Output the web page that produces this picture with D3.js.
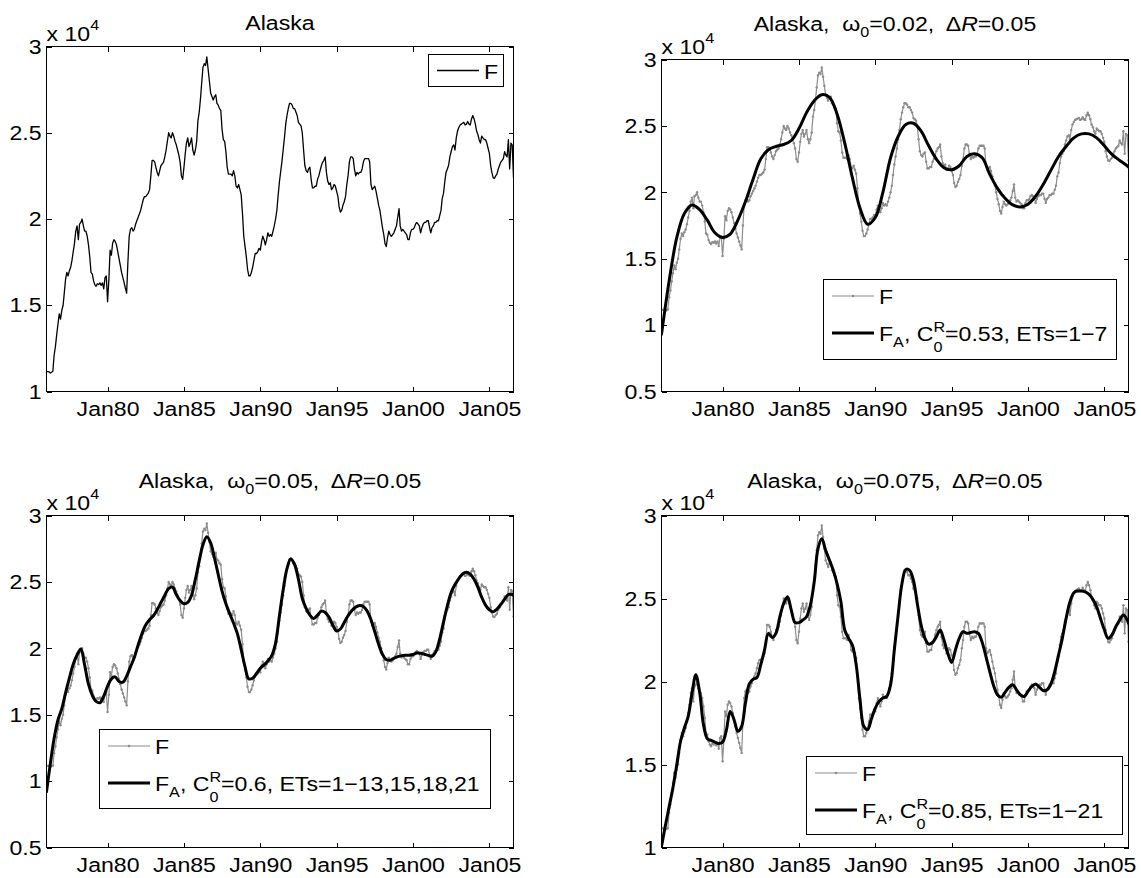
<!DOCTYPE html>
<html>
<head>
<meta charset="utf-8">
<title>Alaska</title>
<script src="https://cdn.jsdelivr.net/npm/d3@7/dist/d3.min.js"></script>
<style>
  html, body { margin: 0; padding: 0; background: #fff; }
  svg { display: block; font-family: "Liberation Sans", Arial, Helvetica, sans-serif; }
  text { white-space: pre; fill: #000; }
</style>
</head>
<body>
<svg id="fig" width="1141" height="878"></svg>
<script>
// ---------------------------------------------------------------
// F : monthly series, Jan 1976 .. Aug 2006 (one row per year)
// ---------------------------------------------------------------
const f1976 = [11160, 11150, 11140, 11070, 11120, 11170, 12100, 12600, 13300, 13900, 14500, 14200];
const f1977 = [14700, 15000, 15700, 16500, 16900, 16700, 17000, 17200, 17600, 18100, 18600, 19300];
const f1978 = [19600, 18800, 19700, 19800, 20000, 19600, 19300, 19300, 19000, 18500, 17800, 16900];
const f1979 = [16800, 16400, 16200, 16100, 16250, 16200, 16300, 16150, 16300, 15950, 16600, 16700];
const f1980 = [15200, 16500, 18200, 17900, 18600, 18800, 18700, 18500, 18100, 17700, 17300, 16900];
const f1981 = [16600, 16300, 16000, 15700, 17500, 19000, 19400, 19500, 19300, 19400, 19700, 19900];
const f1982 = [20100, 20300, 20500, 20800, 21100, 21300, 21300, 21400, 21500, 21700, 22500, 23400];
const f1983 = [23400, 23300, 23000, 22700, 22500, 22800, 23100, 23200, 23300, 23600, 24000, 24500];
const f1984 = [25000, 24800, 24700, 25000, 24800, 24500, 24300, 24000, 23700, 23300, 22500, 22300];
const f1985 = [23000, 23800, 24400, 24700, 24200, 24400, 24700, 24000, 23700, 24000, 24500, 25700];
const f1986 = [26200, 27000, 27900, 28800, 29000, 28900, 29400, 28700, 28000, 27300, 27100, 26900];
const f1987 = [27100, 27200, 26700, 26600, 26400, 26300, 25200, 24600, 24500, 23900, 23000, 22600];
const f1988 = [22600, 22600, 22500, 22800, 22500, 21900, 21800, 22000, 21700, 21400, 20300, 19000];
const f1989 = [18400, 17800, 17100, 16700, 16700, 16900, 17200, 17600, 18000, 18000, 18100, 18300];
const f1990 = [18200, 18700, 19000, 18800, 18500, 18800, 19200, 19000, 19100, 19000, 19300, 19600];
const f1991 = [20000, 20500, 21300, 22100, 22700, 23300, 24000, 24700, 25500, 26000, 26400, 26700];
const f1992 = [26700, 26600, 26400, 26400, 26200, 26000, 25600, 25500, 25400, 25000, 24000, 23100];
const f1993 = [22800, 22700, 22900, 23000, 22300, 21800, 21800, 21900, 21900, 22300, 22500, 22800];
const f1994 = [23100, 23300, 23400, 23600, 22700, 22200, 22000, 22100, 21700, 21800, 22000, 21900];
const f1995 = [21600, 21300, 20700, 20400, 20500, 20800, 21000, 21300, 22000, 22500, 23300, 23600];
const f1996 = [23600, 23500, 22900, 22500, 22700, 22600, 22700, 22700, 22900, 23300, 23500, 23500];
const f1997 = [23500, 23500, 23300, 22000, 21700, 21800, 21900, 21600, 21200, 20800, 20500, 20000];
const f1998 = [19500, 19100, 18600, 18400, 18900, 19300, 19100, 19000, 19100, 19200, 19400, 19600];
const f1999 = [20100, 20600, 19600, 19300, 19400, 19300, 19200, 19100, 18800, 18800, 19200, 19400];
const f2000 = [19400, 19500, 19700, 19800, 19700, 19600, 19200, 19500, 19700, 19800, 19800, 19900];
const f2001 = [19900, 19500, 19200, 19500, 19600, 19800, 19800, 19900, 19900, 20200, 20500, 21200];
const f2002 = [21500, 22200, 22700, 22900, 23100, 23600, 23900, 24200, 24300, 24000, 24700, 25100];
const f2003 = [25300, 25450, 25500, 25550, 25600, 25450, 25500, 25650, 25500, 25450, 25800, 26000];
const f2004 = [25800, 25500, 25100, 24900, 24600, 24400, 24800, 24700, 24600, 24600, 24400, 24100];
const f2005 = [23800, 23100, 22700, 22400, 22350, 22500, 22600, 22900, 23100, 23300, 23400, 23500];
const f2006 = [23900, 23700, 23600, 24600, 22900, 24400, 24300, 22400];

const fMonthly = [f1976, f1977, f1978, f1979, f1980, f1981, f1982, f1983, f1984, f1985,
                  f1986, f1987, f1988, f1989, f1990, f1991, f1992, f1993, f1994, f1995,
                  f1996, f1997, f1998, f1999, f2000, f2001, f2002, f2003, f2004, f2005,
                  f2006].flat();

// ---------------------------------------------------------------
// F_A approximations
// omega0 = 0.02 : sampled every 6 months (Jan, Jul) + last month
// ---------------------------------------------------------------
const faOmega002 = [
   9300, 13300,  16600, 18400,  19050, 18700,  17900, 16950,  16600, 16850,
  17900, 19300,  21000, 22500,  23200, 23450,  23600, 23900,  24800, 26000,
  26900, 27350,  27150, 25900,  23700, 21100,  18800, 17600,  18100, 20000,
  22600, 24200,  25100, 25200,  24600, 23500,  22500, 21850,  21700, 22000,
  22700, 22900,  22600, 21350,  20300, 19550,  19050, 18900,  19100, 19700,
  20600, 21650,  22700, 23450,  24100, 24400,  24400, 24100,  23500, 22850,
  22400, 22000, 21900
];

// omega0 = 0.05 : quarterly (Jan, Apr, Jul, Oct) + last month
const faOmega005 = [
   9200, 11300, 13200, 14600,   15450, 16650, 17750, 18800,   19500, 19950, 18750, 17300,
  16450, 16000, 15900, 16400,   17150, 17700, 17850, 17500,   17450, 17900, 18600, 19300,
  20250, 21100, 21750, 22150,   22450, 22900, 23450, 24000,   24500, 24600, 24050, 23600,
  23350, 23450, 24000, 25200,   26600, 27800, 28400, 27950,   26800, 25550, 24300, 23350,
  22600, 21900, 21100, 19900,   18600, 17700, 17750, 18100,   18500, 18750, 19050, 19450,
  20400, 22400, 24400, 26000,   26750, 26300, 25200, 23750,   23000, 22500, 22250, 22500,
  22800, 22700, 22350, 21750,   21300, 21450, 21950, 22450,   22850, 23100, 23230, 23150,
  22800, 22150, 21250, 20300,   19550, 19150, 19100, 19250,   19370, 19450, 19480, 19480,
  19530, 19650, 19630, 19550,   19470, 19400, 19750, 20700,   22000, 23200, 24200, 24800,
  25250, 25600, 25720, 25580,   25200, 24600, 23850, 23250,   22900, 22750, 22950, 23300,
  23700, 24050, 24050, 24000
];

// omega0 = 0.075 : quarterly (Jan, Apr, Jul, Oct) + last month
const faOmega0075 = [
  10060, 11300, 12450, 13600,   15000, 16400, 17200, 17900,   19300, 20400, 19350, 17400,
  16550, 16450, 16350, 16270,   16350, 17070, 18200, 17700,   17000, 17300, 18700, 19850,
  20140, 20240, 21000, 21900,   22900, 22650, 22900, 23900,   24700, 25100, 24300, 23550,
  23550, 23700, 23900, 24600,   26000, 28000, 28600, 27900,   27300, 26700, 25900, 24800,
  23100, 22600, 22200, 21000,   18900, 17300, 17100, 17750,   18400, 18800, 19000, 19100,
  19800, 21900, 24000, 25900,   26750, 26700, 26100, 24700,   23400, 22600, 22250, 22350,
  22700, 23100, 22500, 21700,   21150, 21900, 22600, 23000,   22900, 22950, 23000, 22900,
  22350, 21500, 20600, 19750,   19200, 19050, 19350, 19650,   19800, 19500, 19200, 19100,
  19400, 19700, 19850, 19650,   19450, 19500, 19850, 20600,   21600, 22600, 23800, 24800,
  25350, 25450, 25450, 25400,   25250, 24950, 24500, 23800,   23100, 22600, 22800, 23300,
  23700, 24000, 23700, 23500
];

// panel parameters
const omegaLabels = ["0.02", "0.05", "0.075"];
const deltaRLabel = "0.05";
const cLabels     = ["0.53", "0.6", "0.85"];
const etsLabels   = ["1\u22127", "1\u221213,15,18,21", "1\u221221"];

// axis ticks
const xTickYears  = [1980, 1985, 1990, 1995, 2000, 2005];
const xTickLabels = ["Jan80", "Jan85", "Jan90", "Jan95", "Jan00", "Jan05"];
const yTicksFrom1  = [1, 1.5, 2, 2.5, 3];
const yTicksFrom05 = [0.5, 1, 1.5, 2, 2.5, 3];

// ---------------------------------------------------------------
// drawing
// ---------------------------------------------------------------
const svg = d3.select("#fig");
const FS = 21;          // font size
const SX = 1.1;         // horizontal glyph stretch
const GREY = "#8c8c8c";
const lastMonth = fMonthly.length - 1;
const monthDate = m => new Date(1976, m, 1);

const fPoints = fMonthly.map((v, m) => ({ date: monthDate(m), v }));

function samples(values, step) {
  const months = d3.range(0, lastMonth, step).concat([lastMonth]);
  return values.map((v, i) => ({ date: monthDate(months[i]), v }));
}

// rich text: runs of normal / subscript / superscript / stacked sub+sup glyphs
function richText(g, parts, size) {
  let cx = 0;
  const small = size * 0.7;
  for (const p of parts) {
    if (p.stack) {
      const a = g.append("text").attr("x", cx).attr("y", -size * 0.45)
        .style("font-size", small + "px").text(p.stack[0]);
      const b = g.append("text").attr("x", cx).attr("y", size * 0.5)
        .style("font-size", small + "px").text(p.stack[1]);
      cx += Math.max(a.node().getComputedTextLength(), b.node().getComputedTextLength());
    } else {
      const isSmall = p.sub || p.sup;
      const dy = p.sub ? size * 0.3 : p.sup ? -size * 0.5 : 0;
      const t = g.append("text").attr("x", cx).attr("y", dy)
        .style("font-size", (isSmall ? small : size) + "px")
        .style("font-style", p.it ? "italic" : "normal")
        .text(p.t);
      cx += t.node().getComputedTextLength();
    }
  }
  return cx;
}

const panels = [
  { left: 46.5,  right: 513.5,  top: 46.5,  bottom: 391.5, yTicks: yTicksFrom1,
    titleY: 29.5, fa: null,
    legend: { x: 428.5, y: 54.5, w: 74.5, h: 32, row0: 16 } },
  { left: 661.5, right: 1128.5, top: 59.5,  bottom: 391.5, yTicks: yTicksFrom05,
    titleY: 31, fa: samples(faOmega002, 6), k: 0,
    legend: { x: 823.5, y: 279.5, w: 293, h: 80, row0: 16.5 } },
  { left: 46.5,  right: 513.5,  top: 515.5, bottom: 847.5, yTicks: yTicksFrom05,
    titleY: 487.5, fa: samples(faOmega005, 3), k: 1,
    legend: { x: 99.5, y: 729.5, w: 391, h: 79, row0: 16.5 } },
  { left: 661.5, right: 1128.5, top: 515.5, bottom: 847.5, yTicks: yTicksFrom1,
    titleY: 488, fa: samples(faOmega0075, 3), k: 2,
    legend: { x: 806.5, y: 756.5, w: 316, h: 78, row0: 16.5 } }
];

panels.forEach((P, idx) => {
  const g = svg.append("g");
  const x = d3.scaleTime()
    .domain([monthDate(0), monthDate(lastMonth)])
    .range([P.left, P.right]);
  const y = d3.scaleLinear()
    .domain([P.yTicks[0] * 1e4, 3e4])
    .range([P.bottom, P.top]);

  const clipId = "clip" + idx;
  svg.append("clipPath").attr("id", clipId).append("rect")
    .attr("x", P.left).attr("y", P.top)
    .attr("width", P.right - P.left).attr("height", P.bottom - P.top);

  const plot = g.append("g").attr("clip-path", `url(#${clipId})`);
  const line = d3.line().x(d => x(d.date)).y(d => y(d.v));

  if (!P.fa) {
    plot.append("path").datum(fPoints)
      .attr("d", line).attr("fill", "none")
      .attr("stroke", "#000").attr("stroke-width", 1.3)
      .attr("stroke-linejoin", "round");
  } else {
    plot.append("path").datum(fPoints)
      .attr("d", line).attr("fill", "none")
      .attr("stroke", GREY).attr("stroke-width", 1.2)
      .attr("stroke-linejoin", "round");
    plot.append("g").selectAll("circle").data(fPoints).join("circle")
      .attr("cx", d => x(d.date)).attr("cy", d => y(d.v))
      .attr("r", 1.2).attr("fill", GREY);
    const smooth = d3.line().x(d => x(d.date)).y(d => y(d.v))
      .curve(d3.curveCatmullRom.alpha(0.5));
    plot.append("path").datum(P.fa)
      .attr("d", smooth).attr("fill", "none")
      .attr("stroke", "#000").attr("stroke-width", 3)
      .attr("stroke-linejoin", "round").attr("stroke-linecap", "round");
  }

  // axes (ticks pointing inward on all four sides)
  const tickDates = xTickYears.map(yr => new Date(yr, 0, 1));
  const styleAxis = s => {
    s.select(".domain").remove();
    s.attr("font-size", FS).attr("font-family", null);
    s.selectAll("line").attr("shape-rendering", "crispEdges");
    s.selectAll("text").attr("transform", `scale(${SX},1)`);
  };
  g.append("g").attr("transform", `translate(0,${P.bottom})`)
    .call(d3.axisBottom(x).tickValues(tickDates)
      .tickFormat((d, i) => xTickLabels[i]).tickSizeInner(-5).tickSizeOuter(0).tickPadding(10))
    .call(styleAxis);
  g.append("g").attr("transform", `translate(0,${P.top})`)
    .call(d3.axisTop(x).tickValues(tickDates).tickFormat(() => "")
      .tickSizeInner(-5).tickSizeOuter(0))
    .call(styleAxis);
  g.append("g").attr("transform", `translate(${P.left},0)`)
    .call(d3.axisLeft(y).tickValues(P.yTicks.map(t => t * 1e4))
      .tickFormat(d => d3.format("")(d / 1e4)).tickSizeInner(-5).tickSizeOuter(0).tickPadding(4.5))
    .call(styleAxis);
  g.append("g").attr("transform", `translate(${P.right},0)`)
    .call(d3.axisRight(y).tickValues(P.yTicks.map(t => t * 1e4)).tickFormat(() => "")
      .tickSizeInner(-5).tickSizeOuter(0))
    .call(styleAxis);

  g.append("rect")
    .attr("x", P.left).attr("y", P.top)
    .attr("width", P.right - P.left).attr("height", P.bottom - P.top)
    .attr("fill", "none").attr("stroke", "#000").attr("stroke-width", 1)
    .attr("shape-rendering", "crispEdges");

  // exponent label
  const ex = g.append("g").attr("transform", `translate(${P.left},${P.top - 6}) scale(${SX},1)`);
  richText(ex, [{ t: "x 10" }, { t: "4", sup: true }], FS);

  // title
  const titleParts = P.fa
    ? [{ t: "Alaska,  \u03c9" }, { t: "0", sub: true },
       { t: "=" + omegaLabels[P.k] + ",  \u0394" }, { t: "R", it: true }, { t: "=" + deltaRLabel }]
    : [{ t: "Alaska" }];
  const tg = g.append("g");
  const tw = richText(tg, titleParts, FS) * SX;
  tg.attr("transform", `translate(${(P.left + P.right) / 2 - tw / 2},${P.titleY}) scale(${SX},1)`);

  // legend
  const L = P.legend;
  const lg = g.append("g");
  lg.append("rect").attr("x", L.x).attr("y", L.y).attr("width", L.w).attr("height", L.h)
    .attr("fill", "#fff").attr("stroke", "#000").attr("stroke-width", 1)
    .attr("shape-rendering", "crispEdges");
  const entries = P.fa
    ? [
        { color: GREY, width: 1.2, dot: true, parts: [{ t: "F" }] },
        { color: "#000", width: 3, dot: false,
          parts: [{ t: "F" }, { t: "A", sub: true }, { t: ", C" }, { stack: ["R", "0"] },
                  { t: "=" + cLabels[P.k] + ", ETs=" + etsLabels[P.k] }] }
      ]
    : [{ color: "#000", width: 1.3, dot: false, parts: [{ t: "F" }] }];
  entries.forEach((e, i) => {
    const ly = L.y + L.row0 + i * 37;
    const x1 = L.x + 8.5, x2 = L.x + 50.5;
    lg.append("line").attr("x1", x1).attr("x2", x2).attr("y1", ly).attr("y2", ly)
      .attr("stroke", e.color).attr("stroke-width", e.width);
    if (e.dot) {
      lg.append("circle").attr("cx", (x1 + x2) / 2).attr("cy", ly).attr("r", 1.3).attr("fill", e.color);
    }
    const eg = lg.append("g").attr("transform", `translate(${L.x + 55.5},${ly + 8}) scale(${SX},1)`);
    richText(eg, e.parts, FS);
  });
});
</script>
</body>
</html>
